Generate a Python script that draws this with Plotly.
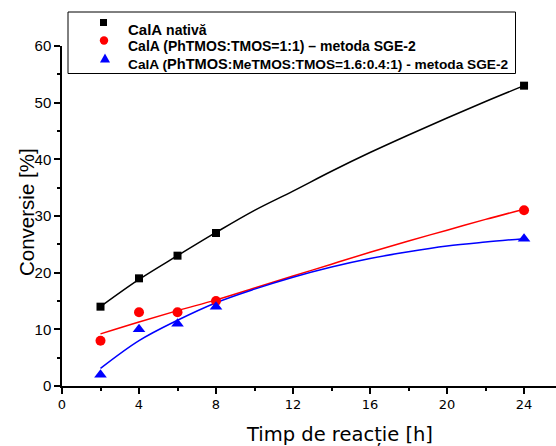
import plotly.graph_objects as go

# measured points
time_h = [2, 4, 6, 8, 24]
native = [14, 19, 23, 27, 53]
sge_11 = [8, 13, 13, 15, 31]
sge_me = [2, 10, 11, 14, 26]

# fitted curves
fit_t = [2, 4, 6, 8, 10, 12, 14, 16, 18, 20, 22, 24]
fit_native = [14, 18.8, 23, 27.1, 31, 34.4, 37.9, 41.2, 44.3, 47.3, 50.2, 53]
fit_sge_11 = [9.2, 11.3, 13.3, 15.2, 17.3, 19.4, 21.5, 23.6, 25.6, 27.5, 29.4, 31.2]
fit_sge_me = [3.1, 8.0, 11.6, 14.7, 17.1, 19.2, 21.0, 22.5, 23.7, 24.7, 25.4, 26.0]

legend_labels = ["<b><span style='font-size:15px'>CalA</span> nativă</b>",
                 "<b>CalA (PhTMOS:TMOS=1:1) – metoda SGE-2</b>",
                 "<b>CalA (<span style='font-size:14.6px'>PhTMOS</span>:MeTMOS:TMOS=1.6:0.4:1) - metoda SGE-2</b>"]
legend_sizes = [14, 14, 13.7]
series_names = ["CalA nativă", "CalA (PhTMOS:TMOS=1:1) – metoda SGE-2",
                "CalA (PhTMOS:MeTMOS:TMOS=1.6:0.4:1) - metoda SGE-2"]

colors = ["black", "red", "blue"]
fits = [fit_native, fit_sge_11, fit_sge_me]
pts = [native, sge_11, sge_me]
symbols = ["square", "circle", "triangle-up"]
sizes = [8, 10, 11]

fig = go.Figure()
for c, f in zip(colors, fits):
    fig.add_trace(go.Scatter(x=fit_t, y=f, mode="lines", line=dict(color=c, width=1.5, shape="spline"),
                             showlegend=False, hoverinfo="skip", cliponaxis=False))
for n, c, p, s, sz in zip(series_names, colors, pts, symbols, sizes):
    fig.add_trace(go.Scatter(x=time_h, y=p, mode="markers", name=n, showlegend=False,
                             marker=dict(color=c, symbol=s, size=sz, line=dict(width=0)),
                             cliponaxis=False))

W, H = 556, 446
L, R, T, B = 62, 0, 46, 60
pw, ph = W - L - R, H - T - B

def px(xp):
    return (xp - L) / pw

def py(yp):
    return (H - B - yp) / ph

# legend box (drawn by hand so that row spacing matches)
shapes = [dict(type="rect", xref="paper", yref="paper", x0=px(68), x1=px(515.5), y0=py(73.5), y1=py(12),
               line=dict(color="black", width=1), fillcolor="white", layer="above")]
# legend symbols
sq_c, sq_h = (103.5, 22.5), 3.5
shapes.append(dict(type="rect", xref="paper", yref="paper",
                   x0=px(sq_c[0] - sq_h), x1=px(sq_c[0] + sq_h), y0=py(sq_c[1] + sq_h), y1=py(sq_c[1] - sq_h),
                   line=dict(width=0), fillcolor="black", layer="above"))
ci_c, ci_r = (104, 40.5), 4.2
shapes.append(dict(type="circle", xref="paper", yref="paper",
                   x0=px(ci_c[0] - ci_r), x1=px(ci_c[0] + ci_r), y0=py(ci_c[1] + ci_r), y1=py(ci_c[1] - ci_r),
                   line=dict(width=0), fillcolor="red", layer="above"))
tr_c = (105, 58.5)
tri = "M {} {} L {} {} L {} {} Z".format(px(tr_c[0] - 5), py(tr_c[1] + 4), px(tr_c[0] + 5), py(tr_c[1] + 4),
                                         px(tr_c[0]), py(tr_c[1] - 5))
shapes.append(dict(type="path", xref="paper", yref="paper", path=tri,
                   line=dict(width=0), fillcolor="blue", layer="above"))

annotations = []
for lbl, fs, yc in zip(legend_labels, legend_sizes, [29.5, 45.5, 63.5]):
    annotations.append(dict(text=lbl, xref="paper", yref="paper", x=px(126), y=py(yc),
                            showarrow=False, xanchor="left", yanchor="middle",
                            font=dict(family="Liberation Sans, Arial", size=fs, color="black")))
annotations += [
    dict(text="Timp de reacție [h]", xref="paper", yref="paper", x=px(339), y=py(434),
         showarrow=False, xanchor="center", yanchor="middle",
         font=dict(family="DejaVu Sans", size=19.5, color="black")),
    dict(text="Conversie [%]", xref="paper", yref="paper", x=px(26), y=py(212),
         showarrow=False, xanchor="center", yanchor="middle", textangle=-90,
         font=dict(family="Liberation Sans, Arial", size=20.5, color="black")),
]

fig.update_layout(
    width=W, height=H,
    margin=dict(l=L, r=R, t=T, b=B, autoexpand=False),
    paper_bgcolor="white", plot_bgcolor="white",
    showlegend=False,
    xaxis=dict(range=[0, 25.66], tickvals=[0, 4, 8, 12, 16, 20, 24], showgrid=False, zeroline=False,
               showline=True, linecolor="black", linewidth=1.5,
               ticks="outside", ticklen=6, tickwidth=1.5, tickcolor="black",
               tickfont=dict(family="DejaVu Sans", size=13, color="black"),
               minor=dict(tickvals=[2, 6, 10, 14, 18, 22], ticks="outside", ticklen=3, tickwidth=1.5, tickcolor="black"),
               fixedrange=True),
    yaxis=dict(range=[0, 60], tickvals=[0, 10, 20, 30, 40, 50, 60], showgrid=False, zeroline=False,
               showline=True, linecolor="black", linewidth=1.5,
               ticks="outside", ticklen=6, tickwidth=1.5, tickcolor="black",
               tickfont=dict(family="Liberation Sans, Arial", size=15, color="black"),
               minor=dict(tickvals=[5, 15, 25, 35, 45, 55], ticks="outside", ticklen=3, tickwidth=1.5, tickcolor="black"),
               fixedrange=True),
    shapes=shapes,
    annotations=annotations,
)

fig.write_html("out.html", config={"displayModeBar": False},
               post_script="document.body.style.margin='0';document.body.style.padding='0';")
